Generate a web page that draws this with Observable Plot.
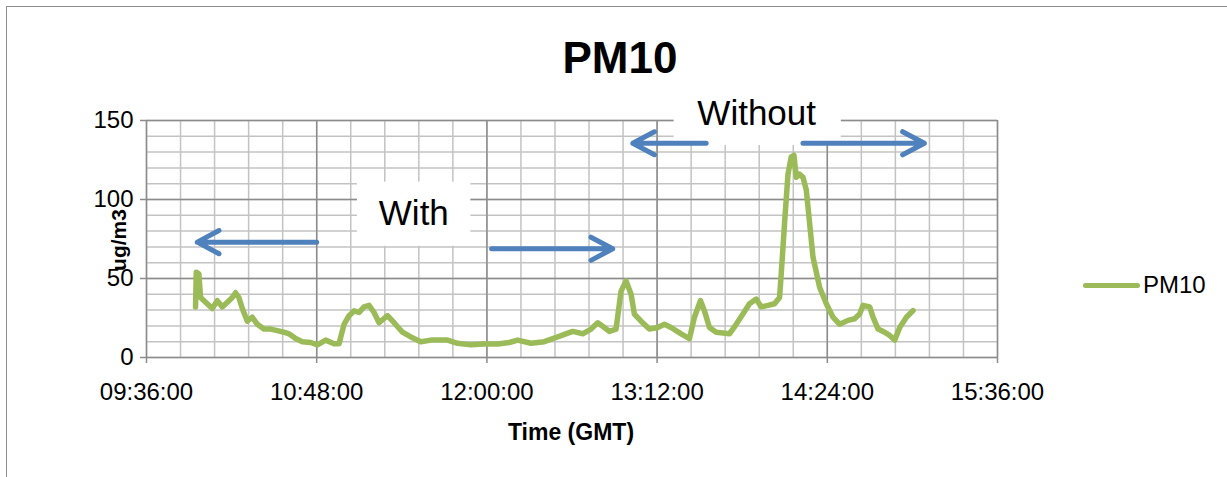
<!DOCTYPE html>
<html>
<head>
<meta charset="utf-8">
<script src="https://cdn.jsdelivr.net/npm/d3@7"></script>
<script src="https://cdn.jsdelivr.net/npm/@observablehq/plot@0.6"></script>
<style>
  html, body { margin: 0; padding: 0; background: #fff; overflow: hidden; }
  body { width: 1227px; height: 477px; position: relative; font-family: "Liberation Sans", Arial, sans-serif; }
  .frame { position: absolute; left: 6px; top: 6px; width: 1400px; height: 600px; border: 1px solid #8c8c8c; box-sizing: border-box; }
  #chart { position: absolute; left: 0; top: 0; }
  .lbl { position: absolute; line-height: 1; white-space: nowrap; color: #000; }
  .title { left: 620px; top: 36px; font-size: 44px; font-weight: bold; transform: translateX(-50%); }
  .xtitle { left: 571px; top: 421px; font-size: 23px; font-weight: bold; transform: translateX(-50%); }
  .ytitle { left: 118px; top: 240px; font-size: 21px; font-weight: bold; transform: translate(-50%, -50%) rotate(-90deg); }
  .legend-swatch { position: absolute; left: 1083px; top: 282.5px; width: 57px; height: 5px; border-radius: 2.5px; background: #9bbb59; }
  .legend-text { left: 1143px; top: 273px; font-size: 24px; }
</style>
</head>
<body>
<div class="frame"></div>
<div id="chart"></div>
<div class="lbl title">PM10</div>
<div class="lbl xtitle">Time (GMT)</div>
<div class="lbl ytitle">ug/m3</div>
<div class="legend-swatch"></div>
<div class="lbl legend-text">PM10</div>
<script>
// PM10 concentration readings (ug/m3) by time of day (GMT)
const sampleTimes = [
  "09:56:45","09:57:03","09:58:09","09:58:52","10:01:00","10:03:50","10:05:56","10:08:04","10:10:11","10:12:18",
  "10:13:41","10:15:05","10:16:32","10:18:39","10:20:46","10:22:53","10:25:41","10:28:31","10:31:21","10:34:09",
  "10:36:16","10:39:06","10:41:56","10:45:28","10:48:18","10:51:49","10:55:20","10:57:27","10:59:34","11:01:41",
  "11:03:48","11:05:55","11:08:02","11:10:09","11:12:16","11:14:23","11:17:56","11:20:44","11:24:18","11:27:49",
  "11:32:03","11:36:17","11:40:31","11:43:21","11:47:35","11:53:13","11:58:52","12:04:32","12:09:27","12:13:00",
  "12:18:38","12:24:16","12:29:56","12:36:18","12:40:32","12:44:03","12:46:53","12:49:41","12:51:48","12:54:38",
  "12:56:45","12:58:52","13:01:00","13:02:23","13:05:13","13:08:44","13:12:18","13:15:05","13:17:56","13:22:10",
  "13:25:41","13:27:48","13:30:20","13:32:02","13:34:09","13:36:59","13:39:50","13:42:37","13:45:28","13:48:18",
  "13:51:05","13:53:56","13:56:03","13:58:53","14:01:41","14:03:48","14:04:31","14:05:55","14:07:22","14:08:45",
  "14:09:54","14:10:52","14:12:16","14:13:43","14:15:07","14:16:31","14:17:57","14:20:44","14:23:35","14:26:25",
  "14:29:13","14:32:46","14:35:34","14:37:41","14:39:08","14:41:55","14:43:22","14:45:29","14:48:17","14:50:23",
  "14:52:31","14:54:38","14:57:28","15:00:18"
];
const pm10Values = [
  32, 54, 53, 38, 35, 31, 36, 32, 35, 38,
  41, 38, 31, 23, 25.5, 21, 18, 18, 17, 16,
  15, 12, 10, 9.5, 8, 11, 8.7, 8.7, 21, 26.5,
  29.5, 28.5, 32, 33, 28.5, 22, 26.5, 22, 16, 13,
  10, 11, 11, 11, 9, 8, 8.5, 8.5, 9.5, 11,
  9, 10, 13, 16.5, 15, 18, 22, 19, 16.5, 18,
  42, 48.5, 40, 27.5, 23, 18, 19, 21, 19, 15,
  12, 25.5, 36, 29.5, 19, 16, 15.5, 15, 21, 27.5,
  34, 37, 32, 33, 34, 38, 53, 85, 116, 127,
  128, 114, 116, 114, 106, 85, 63.5, 44.5, 34, 25.5,
  21, 23.5, 24.5, 27.5, 33, 32, 25.5, 18, 16, 14,
  11, 19, 25.5, 29.7
];

// Axis ticks
const xTickLabels = ["09:36:00", "10:48:00", "12:00:00", "13:12:00", "14:24:00", "15:36:00"];
const yTickValues = [0, 50, 100, 150];

// Annotation: period labels and the arrows spanning each period
const periodLabels = ["With", "Without"];
const labelTimes = ["11:29:05", "13:54:08"];
const labelLevels = [91, 154];
const boxStart = ["11:05:14", "13:19:12"];
const boxEnd = ["11:53:13", "14:29:55"];
const boxTop = [111, 162];
const boxBottom = [70.4, 134.2];
const arrowFrom = ["10:48:00", "12:02:00", "13:32:45", "14:13:42"];
const arrowTo = ["09:57:28", "12:53:14", "13:01:43", "15:05:05"];
const arrowLevel = [73, 68.8, 135.6, 135.6];

const parseTime = d3.utcParse("%H:%M:%S");
const fmtTime = d3.utcFormat("%H:%M:%S");

const series = sampleTimes.map((t, i) => ({time: parseTime(t), value: pm10Values[i]}));
const xTicks = xTickLabels.map(parseTime);
const x0 = xTicks[0], x1 = xTicks[xTicks.length - 1];

// Minor gridlines: five divisions per major step on both axes
const minorStepMs = (xTicks[1] - xTicks[0]) / 5;
const xMinor = d3.range(0, Math.round((x1 - x0) / minorStepMs) + 1).map(k => new Date(+x0 + k * minorStepMs));
const yMinor = d3.range(0, 151, 10);

const boxes = periodLabels.map((s, i) => ({
  x1: parseTime(boxStart[i]), x2: parseTime(boxEnd[i]), y1: boxBottom[i], y2: boxTop[i]
}));
const labels = periodLabels.map((s, i) => ({text: s, time: parseTime(labelTimes[i]), level: labelLevels[i]}));
const arrows = arrowFrom.map((t, i) => ({
  x1: parseTime(t), x2: parseTime(arrowTo[i]), y: arrowLevel[i]
}));

const chart = Plot.plot({
  width: 1227,
  height: 477,
  marginLeft: 146,
  marginRight: 230,
  marginTop: 120,
  marginBottom: 120,
  style: {fontFamily: "'Liberation Sans', Arial, sans-serif", background: "transparent"},
  x: {type: "utc", domain: [x0, x1]},
  y: {domain: [0, 150]},
  marks: [
    Plot.ruleX(xMinor, {stroke: "#c3c3c3", strokeWidth: 1.5}),
    Plot.ruleY(yMinor, {stroke: "#c3c3c3", strokeWidth: 1.5}),
    Plot.ruleX(xTicks, {stroke: "#8c8c8c", strokeWidth: 1.5}),
    Plot.ruleY(yTickValues, {stroke: "#8c8c8c", strokeWidth: 1.5}),
    Plot.axisX({
      ticks: xTicks, tickFormat: fmtTime, tickSize: 6, tickPadding: 19,
      fontSize: 24, stroke: "#8c8c8c", strokeWidth: 1.5, fill: "#000", label: null
    }),
    Plot.axisY({
      ticks: yTickValues, tickSize: 6, tickPadding: 7,
      fontSize: 24, stroke: "#8c8c8c", strokeWidth: 1.5, fill: "#000", label: null
    }),
    Plot.line(series, {
      x: "time", y: "value", stroke: "#9bbb59", strokeWidth: 5.5,
      strokeLinejoin: "round", strokeLinecap: "round"
    }),
    Plot.rect(boxes, {x1: "x1", x2: "x2", y1: "y1", y2: "y2", fill: "#fff"}),
    Plot.text(labels, {x: "time", y: "level", text: "text", fontSize: 35, fill: "#000"}),
    Plot.arrow(arrows, {
      x1: "x1", x2: "x2", y1: "y", y2: "y",
      stroke: "#4f81bd", strokeWidth: 5, headLength: 7.4, headAngle: 56,
      strokeLinecap: "round"
    })
  ]
});
document.getElementById("chart").appendChild(chart);
</script>
</body>
</html>
